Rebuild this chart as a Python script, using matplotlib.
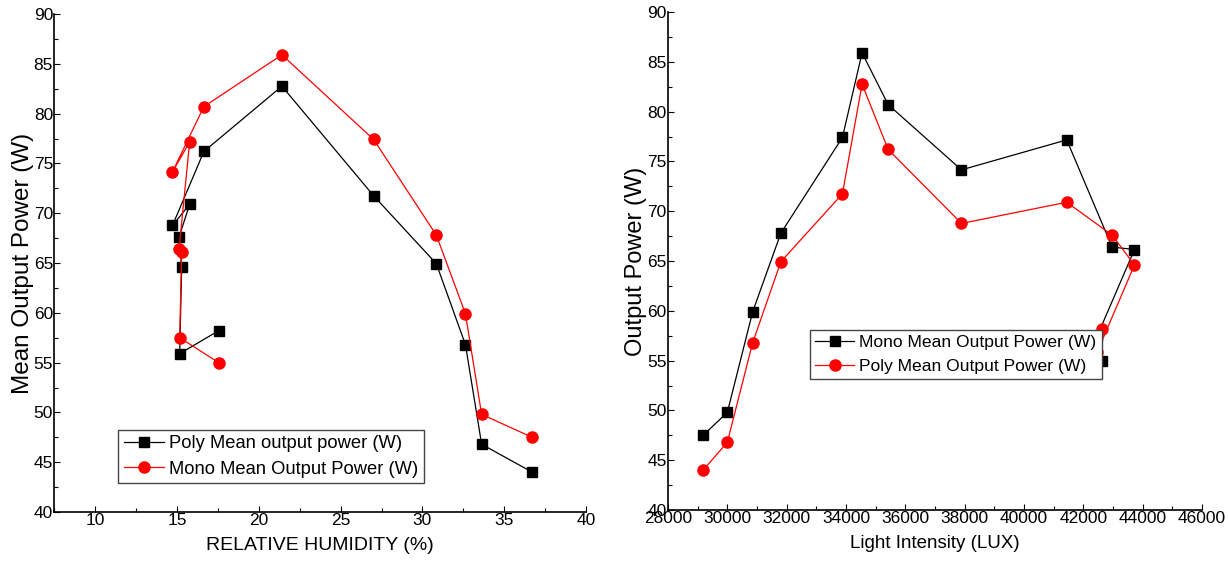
import matplotlib
matplotlib.use("Agg")
import matplotlib.pyplot as plt
from matplotlib.ticker import MultipleLocator

plt.rcParams['font.family'] = ['Liberation Sans', 'DejaVu Sans']

# ---- data ----
humidity = [36.71, 33.62, 32.63, 30.85, 27.02, 21.41, 16.64, 14.72, 15.77, 15.12, 15.28, 15.16, 17.54]
light_lux = [29184, 30000, 30854, 31805, 33879, 34542, 35421, 37892, 41440, 42970, 43724, 42472, 42623]
mono_power = [47.5, 49.8, 59.9, 67.8, 77.4, 85.9, 80.7, 74.15, 77.16, 66.4, 66.15, 57.5, 55.0]
poly_power = [44.0, 46.8, 56.8, 64.93, 71.74, 82.75, 76.2, 68.77, 70.9, 67.6, 64.6, 55.9, 58.2]

left_xticks = [10, 15, 20, 25, 30, 35, 40]
right_xticks = [28000, 30000, 32000, 34000, 36000, 38000, 40000, 42000, 44000, 46000]
yticks = [40, 45, 50, 55, 60, 65, 70, 75, 80, 85, 90]

W, H = 1228, 561
fig = plt.figure(figsize=(W / 100, H / 100), dpi=100)

L1, R1, B1, T1 = 54.4, 586, 512, 14
L2, R2, B2, T2 = 668, 1202, 510, 12
ax1 = fig.add_axes([L1 / W, (H - B1) / H, (R1 - L1) / W, (B1 - T1) / H])
ax2 = fig.add_axes([L2 / W, (H - B2) / H, (R2 - L2) / W, (B2 - T2) / H])

line_kw = dict(lw=0.9)
sq = dict(marker='s', ms=7, color='black', mfc='black', mec='black')
ci = dict(marker='o', ms=8, color='red', mfc='red', mec='red')

ax1.plot(humidity, poly_power, label='Poly Mean output power (W)', **sq, **line_kw)
ax1.plot(humidity, mono_power, label='Mono Mean Output Power (W)', **ci, **line_kw)

ax2.plot(light_lux, mono_power, label='Mono Mean Output Power (W)', **sq, **line_kw)
ax2.plot(light_lux, poly_power, label='Poly Mean Output Power (W)', **ci, **line_kw)

for ax in (ax1, ax2):
    for s in ('top', 'right'):
        ax.spines[s].set_visible(False)
    for s in ('left', 'bottom'):
        ax.spines[s].set_linewidth(1.2)
    ax.set_ylim(40, 90)
    ax.set_yticks(yticks)
    ax.yaxis.set_minor_locator(MultipleLocator(2.5))
    ax.tick_params(which='major', direction='in', length=4, width=0.8, labelsize=12.5, pad=1)
    ax.tick_params(which='minor', direction='in', length=3, width=0.8)

ax1.set_xlim(7.5, 40)
ax1.set_xticks(left_xticks)
ax1.xaxis.set_minor_locator(MultipleLocator(2.5))
ax1.set_xlabel('RELATIVE HUMIDITY (%)', fontsize=14, labelpad=6)
ax1.set_ylabel('Mean Output Power (W)', fontsize=17.5, labelpad=0)

ax2.set_xlim(28000, 46000)
ax2.set_xticks(right_xticks)
ax2.xaxis.set_minor_locator(MultipleLocator(1000))
ax2.set_xlabel('Light Intensity (LUX)', fontsize=13.5, labelpad=6)
ax2.set_ylabel('Output Power (W)', fontsize=17, labelpad=0)

leg_kw = dict(frameon=True, fancybox=False, framealpha=1,
              edgecolor='#444444', handlelength=2.2, borderpad=0.3,
              labelspacing=0.45, handletextpad=0.3, borderaxespad=0)
l1 = ax1.legend(loc='upper left', bbox_to_anchor=((118 - L1) / (R1 - L1), (B1 - 430) / (B1 - T1)),
                fontsize=13.2, **leg_kw)
l2 = ax2.legend(loc='upper left', bbox_to_anchor=((810 - L2) / (R2 - L2), (B2 - 330) / (B2 - T2)),
                fontsize=12.6, **leg_kw)
for l in (l1, l2):
    l.get_frame().set_linewidth(1.0)
    l.set_zorder(10)

fig.savefig('out.png', dpi=100)
